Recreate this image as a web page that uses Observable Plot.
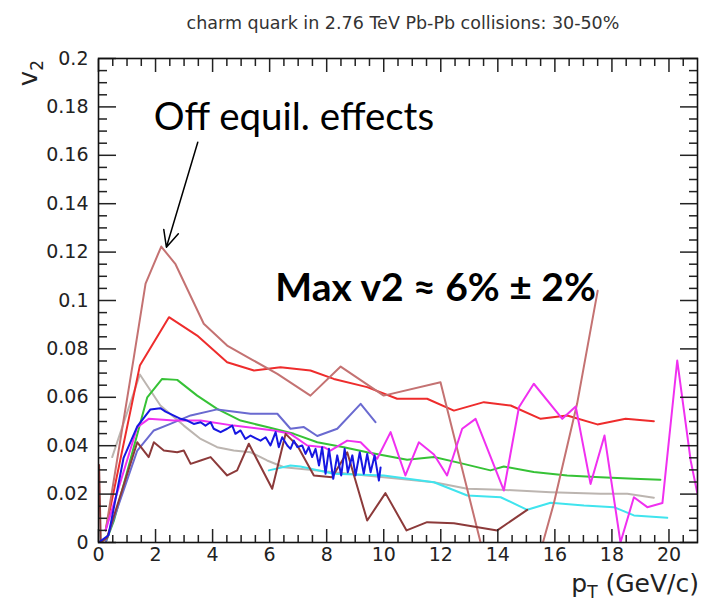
<!DOCTYPE html>
<html><head><meta charset="utf-8">
<script src="https://cdn.jsdelivr.net/npm/d3@7"></script>
<script src="https://cdn.jsdelivr.net/npm/@observablehq/plot@0.6"></script>
<style>
body{margin:0;background:#fff;}
#title{width:702px;height:40px;box-sizing:border-box;padding-left:104px;padding-top:15px;text-align:center;
  font-family:"DejaVu Sans",sans-serif;font-size:17.5px;line-height:1;color:#333;}
#chart svg{display:block;}
</style></head><body>
<div id="title">charm quark in 2.76 TeV Pb-Pb collisions: 30-50%</div>
<div id="chart"></div>
<script>
// ---- axis ticks ----
const xMajor = [0,2,4,6,8,10,12,14,16,18,20];
const xMajorLabels = ["0","2","4","6","8","10","12","14","16","18","20"];
const xMinor = [0.5,1,1.5,2.5,3,3.5,4.5,5,5.5,6.5,7,7.5,8.5,9,9.5,10.5,11,11.5,12.5,13,13.5,14.5,15,15.5,16.5,17,17.5,18.5,19,19.5,20.5];
const yMajor = [0,0.02,0.04,0.06,0.08,0.1,0.12,0.14,0.16,0.18,0.2];
const yMajorLabels = ["0","0.02","0.04","0.06","0.08","0.1","0.12","0.14","0.16","0.18","0.2"];
const yMinor = [0.005,0.01,0.015,0.025,0.03,0.035,0.045,0.05,0.055,0.065,0.07,0.075,0.085,0.09,0.095,0.105,0.11,0.115,0.125,0.13,0.135,0.145,0.15,0.155,0.165,0.17,0.175,0.185,0.19,0.195];

// ---- series (pT, v2) ----
const rosyX = [0.25,1.24,1.65,2.2,2.7,3.69,4.51,5.33,6.27,7.43,8.49,10.0,11.99,13.99,14.99,15.96,16.78,17.5];
const rosyY = [0.005,0.0766,0.107,0.1223,0.115,0.0904,0.0814,0.0759,0.0697,0.0607,0.0727,0.0607,0.0662,-0.028,-0.025,0.016,0.0574,0.104];
const redX = [0.25,1.45,2.47,3.46,4.51,5.45,6.38,7.43,8.25,9.42,10.47,11.52,12.46,13.51,14.45,15.5,16.43,17.49,18.48,19.47];
const redY = [0.005,0.0731,0.0931,0.0855,0.0745,0.0711,0.0724,0.0711,0.0676,0.0642,0.0594,0.0594,0.0545,0.058,0.0566,0.0511,0.0525,0.0488,0.0511,0.0501];
const greenX = [0.25,0.54,1.71,2.23,2.76,3.46,4.16,4.98,5.91,6.85,7.67,8.6,9.42,10.82,11.76,12.69,13.74,14.21,15.26,16.43,17.6,18.77,19.7];
const greenY = [0.0,0.009,0.06,0.0676,0.0672,0.0607,0.0552,0.0504,0.0477,0.0449,0.0414,0.0394,0.0373,0.0342,0.0353,0.0328,0.0298,0.0314,0.0291,0.0277,0.027,0.0263,0.0259];
const grayX = [0.48,1.45,2.17,2.99,3.58,4.16,4.74,5.33,5.91,6.5,7.67,8.25,10.0,11.76,12.93,14.1,15.85,17.6,18.54,19.47];
const grayY = [0.0353,0.0694,0.0566,0.0483,0.0428,0.0394,0.038,0.0373,0.0339,0.0311,0.0298,0.029,0.027,0.0249,0.0222,0.0218,0.0208,0.0201,0.0201,0.0185];
const cyanX = [5.97,6.73,7.08,8.25,10.0,11.76,12.93,14.1,15.03,15.85,17.02,18.07,18.77,19.94];
const cyanY = [0.0298,0.0318,0.0314,0.0284,0.0277,0.0249,0.0194,0.0187,0.0135,0.0164,0.0153,0.0146,0.0112,0.0102];
const magentaX = [0.25,1.36,1.76,2.64,3.58,4.74,6.15,6.73,7.32,7.9,8.13,8.72,9.19,9.77,10.24,10.76,11.23,11.76,12.22,12.75,13.22,14.21,14.74,15.26,16.26,16.73,17.25,17.74,18.3,18.77,19.24,19.77,20.29,20.76,21.0];
const magentaY = [0.005,0.0477,0.0511,0.0504,0.0504,0.0483,0.0463,0.0449,0.0401,0.0394,0.038,0.0421,0.0414,0.0346,0.0456,0.0277,0.0414,0.0364,0.0277,0.047,0.0511,0.0215,0.0559,0.0656,0.0511,0.0562,0.0242,0.0442,0.0,0.0187,0.0146,0.0163,0.0752,0.0339,0.02];
const slateX = [0.25,1.36,1.94,2.52,3.23,4.16,5.33,6.27,6.73,7.2,7.67,8.37,9.19,9.71];
const slateY = [0.0,0.038,0.0463,0.049,0.0525,0.055,0.0532,0.0532,0.047,0.0477,0.044,0.047,0.0573,0.0497];
const blueX = [0.0,0.35,0.88,1.36,1.82,2.17,2.35,2.88,3.11,3.34,3.58,3.75,3.93,4.04,4.28,4.51,4.69,4.8,4.98,5.15,5.33,5.5,5.68,5.86,6.03,6.21,6.32,6.44,6.62,6.73,6.85,6.97,7.14,7.26,7.37,7.49,7.61,7.73,7.84,7.96,8.08,8.23,8.37,8.51,8.63,8.74,8.9,9.01,9.16,9.3,9.42,9.54,9.68,9.83,9.89];
const blueY = [0.0,0.003,0.035,0.048,0.055,0.0555,0.0541,0.0511,0.0504,0.049,0.0497,0.0483,0.0497,0.047,0.0456,0.047,0.0483,0.0449,0.0463,0.0428,0.0442,0.0431,0.0421,0.0435,0.0401,0.0456,0.0394,0.0435,0.0401,0.0387,0.0421,0.0394,0.0401,0.0366,0.0394,0.0353,0.0387,0.0318,0.0394,0.0284,0.0387,0.0263,0.036,0.0277,0.0387,0.029,0.036,0.0277,0.0373,0.0284,0.0366,0.029,0.036,0.0256,0.031];
const brownX = [0.02,0.08,0.3,1.36,1.76,1.94,2.29,2.76,2.99,3.23,3.58,3.93,4.51,4.86,5.27,6.09,6.56,6.97,7.55,8.19,8.72,9.42,10.06,10.8,11.52,12.46,13.98,15.03];
const brownY = [0.032,0.0,0.002,0.0414,0.0353,0.0414,0.038,0.0373,0.038,0.0325,0.0339,0.0353,0.0277,0.0298,0.0408,0.0222,0.0449,0.0401,0.0277,0.027,0.0373,0.0091,0.0204,0.005,0.0084,0.008,0.005,0.0135];

// ---- annotations ----
const noteText = ["Off equil. effects"], noteX = [6.85], noteY = [0.1705];
const maxText = ["Max v2 \u2248 6% \u00b1 2%"], maxX = [6.2], maxY = [0.1];
const arrowX1 = [3.48], arrowY1 = [0.1654], arrowX2 = [2.38], arrowY2 = [0.122];

const series = [
  {x: grayX, y: grayY, c: "#bcb5b0"},
  {x: cyanX, y: cyanY, c: "#40e4ee"},
  {x: greenX, y: greenY, c: "#36c236"},
  {x: redX, y: redY, c: "#ee2c2c"},
  {x: rosyX, y: rosyY, c: "#c47272"},
  {x: slateX, y: slateY, c: "#6a6ad0"},
  {x: magentaX, y: magentaY, c: "#f030f0"},
  {x: brownX, y: brownY, c: "#8c3a3a"},
  {x: blueX, y: blueY, c: "#1717e2"}
];
const lineMarks = series.map(s => Plot.line(s.x.map((v, i) => ({x: v, y: s.y[i]})),
  {x: "x", y: "y", stroke: s.c, strokeWidth: 2, clip: true}));

const blank = () => "";
const plot = Plot.plot({
  width: 702, height: 561,
  marginLeft: 98, marginRight: 5, marginTop: 18, marginBottom: 59,
  x: {domain: [0, 21]},
  y: {domain: [0, 0.2]},
  style: {fontFamily: "DejaVu Sans", fontSize: "19px", color: "#222", background: "#fff"},
  marks: [
    ...lineMarks,
    Plot.axisX(xMajor, {anchor: "bottom", tickSize: -13, tickPadding: 18, tickFormat: (d, i) => xMajorLabels[i], label: null, strokeWidth: 1.5}),
    Plot.axisX(xMinor, {anchor: "bottom", tickSize: -7, tickFormat: blank, label: null, strokeWidth: 1.5}),
    Plot.axisX(xMajor, {anchor: "top", tickSize: -13, tickFormat: blank, label: null, strokeWidth: 1.5}),
    Plot.axisX(xMinor, {anchor: "top", tickSize: -7, tickFormat: blank, label: null, strokeWidth: 1.5}),
    Plot.axisY(yMajor, {anchor: "left", tickSize: -18, tickPadding: 28, tickFormat: (d, i) => yMajorLabels[i], label: null, strokeWidth: 1.5}),
    Plot.axisY(yMinor, {anchor: "left", tickSize: -9, tickFormat: blank, label: null, strokeWidth: 1.5}),
    Plot.axisY(yMajor, {anchor: "right", tickSize: -18, tickFormat: blank, label: null, strokeWidth: 1.5}),
    Plot.axisY(yMinor, {anchor: "right", tickSize: -9, tickFormat: blank, label: null, strokeWidth: 1.5}),
    Plot.frame({stroke: "#111", strokeWidth: 1.6}),
    Plot.arrow(arrowX1.map((v, i) => ({x1: v, y1: arrowY1[i], x2: arrowX2[i], y2: arrowY2[i]})),
      {x1: "x1", y1: "y1", x2: "x2", y2: "y2", stroke: "black", strokeWidth: 1.5, headLength: 18, headAngle: 50}),
    Plot.text(noteText.map((t, i) => ({t, x: noteX[i], y: noteY[i]})),
      {x: "x", y: "y", text: "t", lineAnchor: "bottom", textAnchor: "middle", fontFamily: "Lato", fontSize: 38.5, fill: "black"}),
    Plot.text(maxText.map((t, i) => ({t, x: maxX[i], y: maxY[i]})),
      {x: "x", y: "y", text: "t", lineAnchor: "bottom", textAnchor: "start", fontFamily: "Lato", fontWeight: "bold", fontSize: 39, fill: "black"})
  ]
});
document.getElementById("chart").appendChild(plot);

// axis titles with subscripts
const svg = d3.select(plot);
const xt = svg.append("text").attr("x", 699).attr("y", 552).attr("text-anchor", "end")
  .attr("font-family", "DejaVu Sans").attr("font-size", 25).attr("fill", "#222");
xt.append("tspan").text("p");
xt.append("tspan").attr("font-size", 17).attr("dy", 6).text("T");
xt.append("tspan").attr("dy", -6).text(" (GeV/c)");
const yt = svg.append("text").attr("transform", "translate(37,20) rotate(-90)").attr("text-anchor", "end")
  .attr("font-family", "DejaVu Sans").attr("font-size", 26).attr("fill", "#222");
yt.append("tspan").text("v");
yt.append("tspan").attr("font-size", 17).attr("dy", 6).text("2");
</script>
</body></html>
